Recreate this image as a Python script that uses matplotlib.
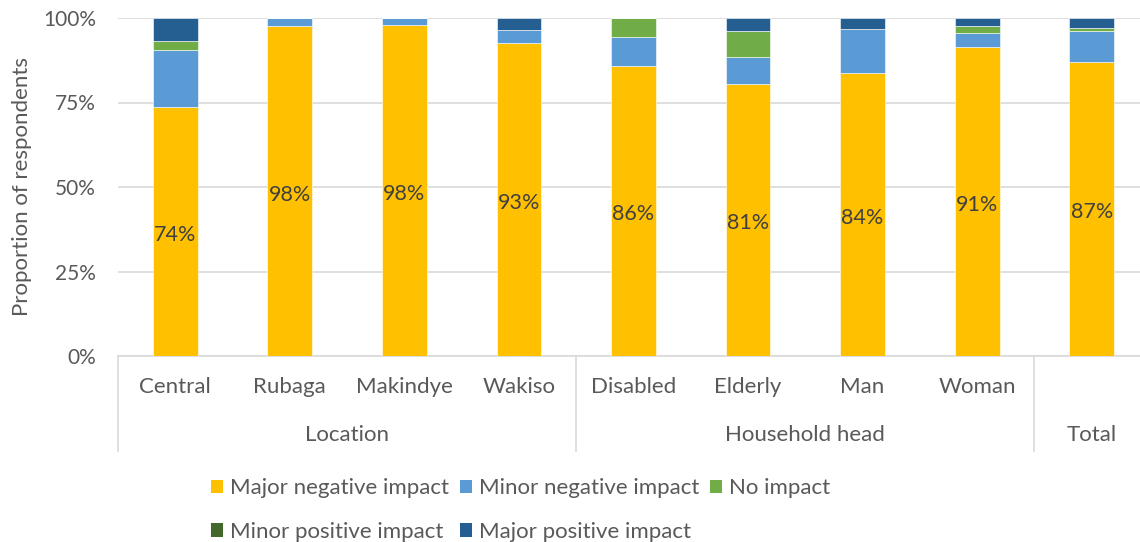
import numpy as np
import matplotlib
matplotlib.use('Agg')
import matplotlib.pyplot as plt
from matplotlib.patches import Patch
from matplotlib.lines import Line2D
import matplotlib.transforms as mtransforms

plt.rcParams['font.family'] = ['Lato', 'DejaVu Sans']

# categories and groups
categories = ['Central', 'Rubaga', 'Makindye', 'Wakiso',
              'Disabled', 'Elderly', 'Man', 'Woman', '']
groups = ['Location', 'Household head', 'Total']
group_sizes = [4, 4, 1]

# shares in percent
major_negative = [73.7, 97.5, 97.8, 92.6, 85.9, 80.6, 83.8, 91.4, 87.1]
minor_negative = [16.9, 2.5, 2.2, 3.8, 8.4, 7.8, 12.8, 4.2, 9.0]
no_impact = [2.6, 0.0, 0.0, 0.0, 5.7, 7.7, 0.0, 2.1, 0.9]
minor_positive = [0.0, 0.0, 0.0, 0.0, 0.0, 0.0, 0.0, 0.0, 0.1]
major_positive = [6.8, 0.0, 0.0, 3.6, 0.0, 3.9, 3.4, 2.3, 2.9]

series = ['Major negative impact', 'Minor negative impact', 'No impact',
          'Minor positive impact', 'Major positive impact']
colors = ['#FFC000', '#5B9BD5', '#70AD47', '#43682B', '#255E91']
text_col = '#595959'

fig = plt.figure(figsize=(11.4, 5.42), dpi=100)
# plot area runs a little past the right edge of the picture, as in the original
ax = fig.add_axes([118/1140, (542-356)/542, (1149-118)/1140, 338/542])

x = np.arange(len(categories))
bottom = np.zeros(len(categories))
for vals, col in zip([major_negative, minor_negative, no_impact, minor_positive, major_positive], colors):
    ax.bar(x, vals, 0.39, bottom=bottom, color=col, edgecolor='white', linewidth=0.4, zorder=3)
    bottom += np.array(vals)

# labels on the major negative segment
for xi, v in zip(x, major_negative):
    ax.text(xi, v/2 - 1, '%d%%' % round(v), ha='center', va='center',
            fontsize=15.5, color='#404040', zorder=4)

ax.set_xlim(-0.5, len(categories) - 0.5)
ax.set_ylim(0, 100)
ax.set_yticks([0, 25, 50, 75, 100])
ax.set_yticklabels(['0%', '25%', '50%', '75%', '100%'])
ax.tick_params(axis='y', length=0, labelsize=15, labelcolor=text_col, pad=16)
ax.set_xticks([])
ax.yaxis.grid(True, color='#D9D9D9', linewidth=1.2, zorder=0)
for s in ['left', 'right', 'top']:
    ax.spines[s].set_visible(False)
ax.spines['bottom'].set_color('#D9D9D9')
ax.spines['bottom'].set_linewidth(1.2)
ax.set_ylabel('Proportion of respondents', fontsize=16, color=text_col, labelpad=8)

# two-level category axis
trans = mtransforms.blended_transform_factory(ax.transData, ax.transAxes)
for xi, c in zip(x, categories):
    ax.text(xi, -0.092, c, transform=trans, ha='center', va='center',
            fontsize=16, color=text_col)
start = -0.5
for g, n in zip(groups, group_sizes):
    ax.text(start + n/2, -0.235, g, transform=trans, ha='center', va='center',
            fontsize=16, color=text_col)
    ax.add_line(Line2D([start, start], [0, -0.28], transform=trans, color='#D9D9D9',
                       linewidth=1.2, clip_on=False))
    start += n
ax.add_line(Line2D([start, start], [0, -0.28], transform=trans, color='#D9D9D9',
                   linewidth=1.2, clip_on=False))

# legend, row-major order
handles = [Patch(facecolor=c, label=s) for s, c in zip(series, colors)]
order = [0, 3, 1, 4, 2]
fig.legend([handles[i] for i in order], [series[i] for i in order],
           ncol=3, loc='center left', bbox_to_anchor=(202/1140, (542-510)/542),
           frameon=False, fontsize=16, labelcolor=text_col,
           handlelength=0.55, handleheight=0.55, handletextpad=0.3,
           columnspacing=0.5, labelspacing=1.05, borderaxespad=0)

fig.savefig('out.png', dpi=100)
